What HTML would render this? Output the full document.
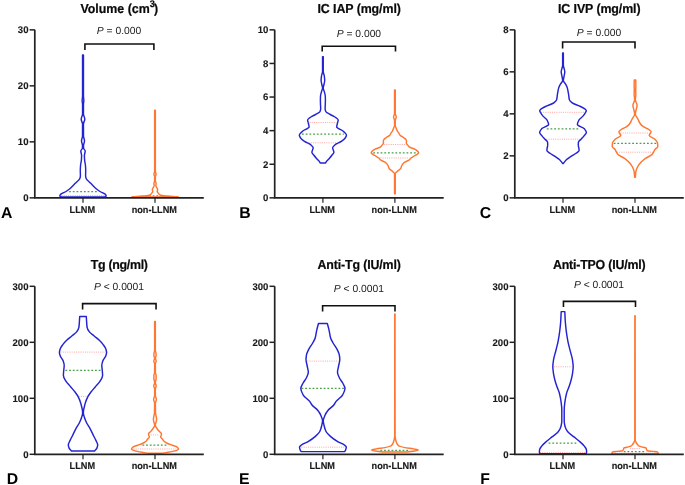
<!DOCTYPE html><html><head><meta charset="utf-8"><style>html,body{margin:0;padding:0;background:#fff;}svg{display:block;will-change:transform;}</style></head><body>
<svg width="685" height="485" viewBox="0 0 685 485" font-family="Liberation Sans, sans-serif" text-rendering="geometricPrecision">
<rect width="685" height="485" fill="#fff"/>
<g><text transform="translate(119.3,12.60) scale(1,1.05)" font-size="12.4" font-weight="bold" fill="#0a0a0a" stroke="#0a0a0a" stroke-width="0.2" text-anchor="middle">Volume (cm<tspan dy="-5.6" font-size="9.2">3</tspan><tspan dy="5.6" dx="-0.8">)</tspan></text><line x1="29.60" y1="197.85" x2="34.80" y2="197.85" stroke="#222222" stroke-width="1.5"/><text transform="translate(28.50,201.15)" font-size="9.6" font-weight="bold" fill="#1a1a1a" stroke="#1a1a1a" stroke-width="0.12" text-anchor="end">0</text><line x1="29.60" y1="141.85" x2="34.80" y2="141.85" stroke="#222222" stroke-width="1.5"/><text transform="translate(28.50,145.15)" font-size="9.6" font-weight="bold" fill="#1a1a1a" stroke="#1a1a1a" stroke-width="0.12" text-anchor="end">10</text><line x1="29.60" y1="85.85" x2="34.80" y2="85.85" stroke="#222222" stroke-width="1.5"/><text transform="translate(28.50,89.15)" font-size="9.6" font-weight="bold" fill="#1a1a1a" stroke="#1a1a1a" stroke-width="0.12" text-anchor="end">20</text><line x1="29.60" y1="29.85" x2="34.80" y2="29.85" stroke="#222222" stroke-width="1.5"/><text transform="translate(28.50,33.15)" font-size="9.6" font-weight="bold" fill="#1a1a1a" stroke="#1a1a1a" stroke-width="0.12" text-anchor="end">30</text><line x1="83.00" y1="197.85" x2="83.00" y2="202.85" stroke="#222222" stroke-width="1.2"/><text transform="translate(82.30,212.60) scale(0.975,1.03)" font-size="9.4" font-weight="bold" fill="#1a1a1a" stroke="#1a1a1a" stroke-width="0.15" text-anchor="middle">LLNM</text><line x1="155.00" y1="197.85" x2="155.00" y2="202.85" stroke="#222222" stroke-width="1.2"/><text transform="translate(154.30,212.60) scale(0.975,1.03)" font-size="9.4" font-weight="bold" fill="#1a1a1a" stroke="#1a1a1a" stroke-width="0.15" text-anchor="middle">non-LLNM</text><path d="M84.90,50.00 V44.00 H153.90 V50.00" fill="none" stroke="#111" stroke-width="1.6"/><text x="119.00" y="34.10" font-size="10.3" fill="#1a1a1a" text-anchor="middle"><tspan font-style="italic">P</tspan> = 0.000</text><text x="0.90" y="217.80" font-size="15.8" font-weight="bold" fill="#000">A</text><line x1="69.10" y1="191.60" x2="96.90" y2="191.60" stroke="#45a045" stroke-width="1.3" stroke-dasharray="1.8 1.9"/><line x1="61.50" y1="195.60" x2="104.50" y2="195.60" stroke="#ff9a9a" stroke-width="0.9" stroke-dasharray="1 1.2"/><path d="M83.45,55.00 C83.45,57.33 83.45,59.67 83.45,62.00 C83.45,73.33 83.45,84.67 83.45,96.00 C83.45,97.53 83.85,99.07 83.85,100.60 C83.85,101.90 83.45,103.20 83.45,104.50 C83.45,107.67 83.45,110.83 83.45,114.00 C83.45,115.73 84.80,117.47 84.80,119.20 C84.80,120.80 83.45,122.40 83.45,124.00 C83.45,128.00 83.46,132.00 83.50,136.00 C83.52,137.63 84.50,139.27 84.50,140.90 C84.50,142.43 83.50,143.97 83.50,145.50 C83.50,146.43 83.54,147.37 83.60,148.30 C83.66,149.20 85.20,150.10 85.20,151.00 C85.20,152.50 84.40,154.00 84.40,155.50 C84.40,157.00 84.50,158.50 84.60,160.00 C84.71,161.67 85.25,163.33 85.40,165.00 C85.55,166.67 85.70,168.33 85.70,170.00 C85.70,172.00 85.60,174.00 85.60,176.00 C85.60,177.00 85.98,178.00 86.40,179.00 C86.87,180.13 88.67,181.27 89.80,182.40 C90.73,183.33 91.68,184.27 92.60,185.20 C93.52,186.13 94.26,187.07 95.30,188.00 C96.60,189.17 98.16,190.33 100.00,191.50 C101.48,192.43 104.59,193.37 105.30,194.30 C105.76,194.90 106.20,195.50 106.20,196.10 C106.20,196.37 105.07,196.63 104.50,196.90 L61.50,196.90 C60.93,196.63 59.80,196.37 59.80,196.10 C59.80,195.50 60.24,194.90 60.70,194.30 C61.41,193.37 64.52,192.43 66.00,191.50 C67.84,190.33 69.40,189.17 70.70,188.00 C71.74,187.07 72.48,186.13 73.40,185.20 C74.32,184.27 75.27,183.33 76.20,182.40 C77.33,181.27 79.13,180.13 79.60,179.00 C80.02,178.00 80.40,177.00 80.40,176.00 C80.40,174.00 80.30,172.00 80.30,170.00 C80.30,168.33 80.45,166.67 80.60,165.00 C80.75,163.33 81.29,161.67 81.40,160.00 C81.50,158.50 81.60,157.00 81.60,155.50 C81.60,154.00 80.80,152.50 80.80,151.00 C80.80,150.10 82.34,149.20 82.40,148.30 C82.46,147.37 82.50,146.43 82.50,145.50 C82.50,143.97 81.50,142.43 81.50,140.90 C81.50,139.27 82.48,137.63 82.50,136.00 C82.54,132.00 82.55,128.00 82.55,124.00 C82.55,122.40 81.20,120.80 81.20,119.20 C81.20,117.47 82.55,115.73 82.55,114.00 C82.55,110.83 82.55,107.67 82.55,104.50 C82.55,103.20 82.15,101.90 82.15,100.60 C82.15,99.07 82.55,97.53 82.55,96.00 C82.55,84.67 82.55,73.33 82.55,62.00 C82.55,59.67 82.55,57.33 82.55,55.00 Z" fill="none" stroke="#2323d2" stroke-width="1.45" stroke-linejoin="round"/><line x1="145.27" y1="195.80" x2="164.73" y2="195.80" stroke="#45a045" stroke-width="1.3" stroke-dasharray="1.8 1.9"/><line x1="135.00" y1="196.60" x2="175.00" y2="196.60" stroke="#ff9a9a" stroke-width="0.9" stroke-dasharray="1 1.2"/><path d="M155.35,110.30 C155.35,113.53 155.35,116.77 155.35,120.00 C155.35,137.17 155.35,154.33 155.35,171.50 C155.35,172.40 156.10,173.30 156.10,174.20 C156.10,174.97 155.35,175.73 155.35,176.50 C155.35,178.00 155.36,179.50 155.40,181.00 C155.42,181.83 156.10,182.67 156.10,183.50 C156.10,184.20 155.80,184.90 155.80,185.60 C155.80,186.40 156.64,187.20 157.00,188.00 C157.25,188.57 157.70,189.13 157.70,189.70 C157.70,190.20 157.20,190.70 157.20,191.20 C157.20,191.90 157.90,192.60 158.40,193.30 C158.76,193.80 158.99,194.30 159.80,194.80 C160.23,195.07 161.37,195.33 163.00,195.60 C164.22,195.80 167.45,196.00 170.00,196.20 C172.13,196.37 175.88,196.53 177.00,196.70 C177.67,196.80 177.93,196.90 178.40,197.00 L131.60,197.00 C132.07,196.90 132.33,196.80 133.00,196.70 C134.12,196.53 137.87,196.37 140.00,196.20 C142.55,196.00 145.78,195.80 147.00,195.60 C148.63,195.33 149.77,195.07 150.20,194.80 C151.01,194.30 151.24,193.80 151.60,193.30 C152.10,192.60 152.80,191.90 152.80,191.20 C152.80,190.70 152.30,190.20 152.30,189.70 C152.30,189.13 152.75,188.57 153.00,188.00 C153.36,187.20 154.20,186.40 154.20,185.60 C154.20,184.90 153.90,184.20 153.90,183.50 C153.90,182.67 154.58,181.83 154.60,181.00 C154.64,179.50 154.65,178.00 154.65,176.50 C154.65,175.73 153.90,174.97 153.90,174.20 C153.90,173.30 154.65,172.40 154.65,171.50 C154.65,154.33 154.65,137.17 154.65,120.00 C154.65,116.77 154.65,113.53 154.65,110.30 Z" fill="none" stroke="#ff7630" stroke-width="1.45" stroke-linejoin="round"/><path d="M34.80,29.85 V197.85 H203.80" fill="none" stroke="#222222" stroke-width="1.7"/></g>
<g><text transform="translate(359.2,12.60) scale(1,1.05)" font-size="12.4" font-weight="bold" fill="#0a0a0a" stroke="#0a0a0a" stroke-width="0.2" text-anchor="middle" textLength="83.4">IC IAP (mg/ml)</text><line x1="269.50" y1="197.85" x2="274.70" y2="197.85" stroke="#222222" stroke-width="1.5"/><text transform="translate(268.40,201.15)" font-size="9.6" font-weight="bold" fill="#1a1a1a" stroke="#1a1a1a" stroke-width="0.12" text-anchor="end">0</text><line x1="269.50" y1="164.25" x2="274.70" y2="164.25" stroke="#222222" stroke-width="1.5"/><text transform="translate(268.40,167.55)" font-size="9.6" font-weight="bold" fill="#1a1a1a" stroke="#1a1a1a" stroke-width="0.12" text-anchor="end">2</text><line x1="269.50" y1="130.65" x2="274.70" y2="130.65" stroke="#222222" stroke-width="1.5"/><text transform="translate(268.40,133.95)" font-size="9.6" font-weight="bold" fill="#1a1a1a" stroke="#1a1a1a" stroke-width="0.12" text-anchor="end">4</text><line x1="269.50" y1="97.05" x2="274.70" y2="97.05" stroke="#222222" stroke-width="1.5"/><text transform="translate(268.40,100.35)" font-size="9.6" font-weight="bold" fill="#1a1a1a" stroke="#1a1a1a" stroke-width="0.12" text-anchor="end">6</text><line x1="269.50" y1="63.45" x2="274.70" y2="63.45" stroke="#222222" stroke-width="1.5"/><text transform="translate(268.40,66.75)" font-size="9.6" font-weight="bold" fill="#1a1a1a" stroke="#1a1a1a" stroke-width="0.12" text-anchor="end">8</text><line x1="269.50" y1="29.85" x2="274.70" y2="29.85" stroke="#222222" stroke-width="1.5"/><text transform="translate(268.40,33.15)" font-size="9.6" font-weight="bold" fill="#1a1a1a" stroke="#1a1a1a" stroke-width="0.12" text-anchor="end">10</text><line x1="322.90" y1="197.85" x2="322.90" y2="202.85" stroke="#222222" stroke-width="1.2"/><text transform="translate(322.20,212.60) scale(0.975,1.03)" font-size="9.4" font-weight="bold" fill="#1a1a1a" stroke="#1a1a1a" stroke-width="0.15" text-anchor="middle">LLNM</text><line x1="394.90" y1="197.85" x2="394.90" y2="202.85" stroke="#222222" stroke-width="1.2"/><text transform="translate(394.20,212.60) scale(0.975,1.03)" font-size="9.4" font-weight="bold" fill="#1a1a1a" stroke="#1a1a1a" stroke-width="0.15" text-anchor="middle">non-LLNM</text><path d="M322.20,51.60 V46.20 H395.50 V51.60" fill="none" stroke="#111" stroke-width="1.6"/><text x="358.90" y="36.70" font-size="10.3" fill="#1a1a1a" text-anchor="middle"><tspan font-style="italic">P</tspan> = 0.000</text><text x="239.30" y="217.80" font-size="15.8" font-weight="bold" fill="#000">B</text><line x1="309.60" y1="122.50" x2="336.20" y2="122.50" stroke="#ff9a9a" stroke-width="0.9" stroke-dasharray="1 1.2"/><line x1="302.00" y1="134.20" x2="343.80" y2="134.20" stroke="#45a045" stroke-width="1.3" stroke-dasharray="1.8 1.9"/><line x1="308.70" y1="142.80" x2="337.10" y2="142.80" stroke="#ff9a9a" stroke-width="0.9" stroke-dasharray="1 1.2"/><path d="M323.25,56.60 C323.25,59.40 323.25,62.20 323.25,65.00 C323.25,67.13 323.25,69.27 323.25,71.40 C323.25,72.93 324.10,74.47 324.30,76.00 C324.49,77.50 324.70,79.00 324.70,80.50 C324.70,81.67 324.32,82.83 324.10,84.00 C323.85,85.30 323.25,86.60 323.25,87.90 C323.25,89.27 324.07,90.63 324.40,92.00 C324.74,93.40 325.24,94.80 325.30,96.20 C325.36,97.47 325.40,98.73 325.40,100.00 C325.40,101.47 325.35,102.93 325.30,104.40 C325.26,105.77 325.10,107.13 325.10,108.50 C325.10,109.60 325.42,110.70 325.90,111.80 C326.29,112.70 328.74,113.60 330.30,114.50 C331.74,115.33 333.74,116.17 334.90,117.00 C336.29,118.00 338.20,119.00 338.20,120.00 C338.20,121.00 337.71,122.00 337.50,123.00 C337.21,124.37 336.70,125.73 336.70,127.10 C336.70,128.40 341.40,129.70 342.90,131.00 C344.43,132.33 346.50,133.67 346.50,135.00 C346.50,136.07 345.78,137.13 345.10,138.20 C344.42,139.27 342.86,140.33 341.30,141.40 C339.74,142.47 336.42,143.53 335.20,144.60 C333.98,145.67 332.60,146.73 332.60,147.80 C332.60,149.30 333.90,150.80 333.90,152.30 C333.90,153.37 332.51,154.43 331.70,155.50 C330.74,156.77 329.58,158.03 328.50,159.30 C327.65,160.30 326.44,161.30 325.90,162.30 C325.77,162.53 325.70,162.77 325.60,163.00 L320.20,163.00 C320.10,162.77 320.03,162.53 319.90,162.30 C319.36,161.30 318.15,160.30 317.30,159.30 C316.22,158.03 315.06,156.77 314.10,155.50 C313.29,154.43 311.90,153.37 311.90,152.30 C311.90,150.80 313.20,149.30 313.20,147.80 C313.20,146.73 311.82,145.67 310.60,144.60 C309.38,143.53 306.06,142.47 304.50,141.40 C302.94,140.33 301.38,139.27 300.70,138.20 C300.02,137.13 299.30,136.07 299.30,135.00 C299.30,133.67 301.37,132.33 302.90,131.00 C304.40,129.70 309.10,128.40 309.10,127.10 C309.10,125.73 308.59,124.37 308.30,123.00 C308.09,122.00 307.60,121.00 307.60,120.00 C307.60,119.00 309.51,118.00 310.90,117.00 C312.06,116.17 314.06,115.33 315.50,114.50 C317.06,113.60 319.51,112.70 319.90,111.80 C320.38,110.70 320.70,109.60 320.70,108.50 C320.70,107.13 320.54,105.77 320.50,104.40 C320.45,102.93 320.40,101.47 320.40,100.00 C320.40,98.73 320.44,97.47 320.50,96.20 C320.56,94.80 321.06,93.40 321.40,92.00 C321.73,90.63 322.55,89.27 322.55,87.90 C322.55,86.60 321.95,85.30 321.70,84.00 C321.48,82.83 321.10,81.67 321.10,80.50 C321.10,79.00 321.31,77.50 321.50,76.00 C321.70,74.47 322.55,72.93 322.55,71.40 C322.55,69.27 322.55,67.13 322.55,65.00 C322.55,62.20 322.55,59.40 322.55,56.60 Z" fill="none" stroke="#2323d2" stroke-width="1.45" stroke-linejoin="round"/><line x1="384.10" y1="144.50" x2="405.70" y2="144.50" stroke="#ff9a9a" stroke-width="0.9" stroke-dasharray="1 1.2"/><line x1="373.20" y1="152.90" x2="416.60" y2="152.90" stroke="#45a045" stroke-width="1.3" stroke-dasharray="1.8 1.9"/><line x1="380.40" y1="158.00" x2="409.40" y2="158.00" stroke="#ff9a9a" stroke-width="0.9" stroke-dasharray="1 1.2"/><path d="M395.25,89.90 C395.25,96.60 395.25,103.30 395.25,110.00 C395.25,111.17 395.25,112.33 395.25,113.50 C395.25,114.67 396.25,115.83 396.25,117.00 C396.25,118.17 395.25,119.33 395.25,120.50 C395.25,122.17 395.25,123.83 395.25,125.50 C395.25,126.50 395.93,127.50 396.30,128.50 C396.58,129.27 396.82,130.03 397.20,130.80 C397.58,131.57 398.31,132.33 398.80,133.10 C399.27,133.83 399.48,134.57 400.10,135.30 C400.75,136.07 402.45,136.83 403.50,137.60 C404.32,138.20 405.44,138.80 405.80,139.40 C406.16,140.00 406.50,140.60 406.50,141.20 C406.50,141.83 406.30,142.47 406.30,143.10 C406.30,143.60 406.93,144.10 407.30,144.60 C407.94,145.47 408.35,146.33 409.50,147.20 C410.34,147.83 413.52,148.47 414.70,149.10 C415.88,149.73 416.83,150.37 417.40,151.00 C417.94,151.60 418.60,152.20 418.60,152.80 C418.60,153.37 417.63,153.93 416.90,154.50 C416.21,155.03 414.90,155.57 414.00,156.10 C412.93,156.73 411.69,157.37 411.00,158.00 C410.35,158.60 410.17,159.20 409.50,159.80 C408.38,160.80 404.95,161.80 403.90,162.80 C402.85,163.80 402.20,164.80 401.70,165.80 C401.22,166.77 401.16,167.73 400.60,168.70 C400.02,169.70 397.91,170.70 396.90,171.70 C396.26,172.33 395.25,172.97 395.25,173.60 C395.25,174.40 395.25,175.20 395.25,176.00 C395.25,181.90 395.25,187.80 395.25,193.70 L394.55,193.70 C394.55,187.80 394.55,181.90 394.55,176.00 C394.55,175.20 394.55,174.40 394.55,173.60 C394.55,172.97 393.54,172.33 392.90,171.70 C391.89,170.70 389.78,169.70 389.20,168.70 C388.64,167.73 388.58,166.77 388.10,165.80 C387.60,164.80 386.95,163.80 385.90,162.80 C384.85,161.80 381.42,160.80 380.30,159.80 C379.63,159.20 379.45,158.60 378.80,158.00 C378.11,157.37 376.87,156.73 375.80,156.10 C374.90,155.57 373.59,155.03 372.90,154.50 C372.17,153.93 371.20,153.37 371.20,152.80 C371.20,152.20 371.86,151.60 372.40,151.00 C372.97,150.37 373.92,149.73 375.10,149.10 C376.28,148.47 379.46,147.83 380.30,147.20 C381.45,146.33 381.86,145.47 382.50,144.60 C382.87,144.10 383.50,143.60 383.50,143.10 C383.50,142.47 383.30,141.83 383.30,141.20 C383.30,140.60 383.64,140.00 384.00,139.40 C384.36,138.80 385.48,138.20 386.30,137.60 C387.35,136.83 389.05,136.07 389.70,135.30 C390.32,134.57 390.53,133.83 391.00,133.10 C391.49,132.33 392.22,131.57 392.60,130.80 C392.98,130.03 393.22,129.27 393.50,128.50 C393.87,127.50 394.55,126.50 394.55,125.50 C394.55,123.83 394.55,122.17 394.55,120.50 C394.55,119.33 393.55,118.17 393.55,117.00 C393.55,115.83 394.55,114.67 394.55,113.50 C394.55,112.33 394.55,111.17 394.55,110.00 C394.55,103.30 394.55,96.60 394.55,89.90 Z" fill="none" stroke="#ff7630" stroke-width="1.45" stroke-linejoin="round"/><path d="M274.70,29.85 V197.85 H443.70" fill="none" stroke="#222222" stroke-width="1.7"/></g>
<g><text transform="translate(599.3,12.60) scale(1,1.05)" font-size="12.4" font-weight="bold" fill="#0a0a0a" stroke="#0a0a0a" stroke-width="0.2" text-anchor="middle" textLength="82.6">IC IVP (mg/ml)</text><line x1="509.60" y1="197.85" x2="514.80" y2="197.85" stroke="#222222" stroke-width="1.5"/><text transform="translate(508.50,201.15)" font-size="9.6" font-weight="bold" fill="#1a1a1a" stroke="#1a1a1a" stroke-width="0.12" text-anchor="end">0</text><line x1="509.60" y1="155.85" x2="514.80" y2="155.85" stroke="#222222" stroke-width="1.5"/><text transform="translate(508.50,159.15)" font-size="9.6" font-weight="bold" fill="#1a1a1a" stroke="#1a1a1a" stroke-width="0.12" text-anchor="end">2</text><line x1="509.60" y1="113.85" x2="514.80" y2="113.85" stroke="#222222" stroke-width="1.5"/><text transform="translate(508.50,117.15)" font-size="9.6" font-weight="bold" fill="#1a1a1a" stroke="#1a1a1a" stroke-width="0.12" text-anchor="end">4</text><line x1="509.60" y1="71.85" x2="514.80" y2="71.85" stroke="#222222" stroke-width="1.5"/><text transform="translate(508.50,75.15)" font-size="9.6" font-weight="bold" fill="#1a1a1a" stroke="#1a1a1a" stroke-width="0.12" text-anchor="end">6</text><line x1="509.60" y1="29.85" x2="514.80" y2="29.85" stroke="#222222" stroke-width="1.5"/><text transform="translate(508.50,33.15)" font-size="9.6" font-weight="bold" fill="#1a1a1a" stroke="#1a1a1a" stroke-width="0.12" text-anchor="end">8</text><line x1="563.00" y1="197.85" x2="563.00" y2="202.85" stroke="#222222" stroke-width="1.2"/><text transform="translate(562.30,212.60) scale(0.975,1.03)" font-size="9.4" font-weight="bold" fill="#1a1a1a" stroke="#1a1a1a" stroke-width="0.15" text-anchor="middle">LLNM</text><line x1="635.00" y1="197.85" x2="635.00" y2="202.85" stroke="#222222" stroke-width="1.2"/><text transform="translate(634.30,212.60) scale(0.975,1.03)" font-size="9.4" font-weight="bold" fill="#1a1a1a" stroke="#1a1a1a" stroke-width="0.15" text-anchor="middle">non-LLNM</text><path d="M562.60,48.40 V42.00 H635.00 V48.40" fill="none" stroke="#111" stroke-width="1.6"/><text x="599.00" y="36.10" font-size="10.3" fill="#1a1a1a" text-anchor="middle"><tspan font-style="italic">P</tspan> = 0.000</text><text x="479.80" y="218.00" font-size="15.8" font-weight="bold" fill="#000">C</text><line x1="541.00" y1="112.30" x2="585.00" y2="112.30" stroke="#ff9a9a" stroke-width="0.9" stroke-dasharray="1 1.2"/><line x1="546.80" y1="128.80" x2="579.20" y2="128.80" stroke="#45a045" stroke-width="1.3" stroke-dasharray="1.8 1.9"/><line x1="546.40" y1="139.20" x2="579.60" y2="139.20" stroke="#ff9a9a" stroke-width="0.9" stroke-dasharray="1 1.2"/><path d="M563.35,53.00 C563.35,55.33 563.35,57.67 563.35,60.00 C563.35,61.70 563.35,63.40 563.35,65.10 C563.35,67.33 564.80,69.57 564.80,71.80 C564.80,73.20 564.33,74.60 564.10,76.00 C563.85,77.50 563.35,79.00 563.35,80.50 C563.35,81.67 564.88,82.83 565.50,84.00 C566.19,85.30 566.93,86.60 567.30,87.90 C567.93,90.13 568.22,92.37 568.60,94.60 C568.90,96.37 568.91,98.13 569.40,99.90 C569.68,100.90 570.89,101.90 572.20,102.90 C573.77,104.10 578.15,105.30 580.50,106.50 C582.32,107.43 584.44,108.37 585.30,109.30 C585.76,109.80 586.30,110.30 586.30,110.80 C586.30,111.30 585.87,111.80 585.60,112.30 C584.96,113.50 584.15,114.70 583.20,115.90 C582.06,117.33 579.64,118.77 578.90,120.20 C578.16,121.63 577.40,123.07 577.40,124.50 C577.40,125.93 583.25,127.37 584.40,128.80 C585.39,130.03 586.40,131.27 586.40,132.50 C586.40,133.70 584.86,134.90 583.90,136.10 C583.07,137.13 581.93,138.17 581.00,139.20 C580.10,140.20 578.46,141.20 578.40,142.20 C578.34,143.23 578.30,144.27 578.30,145.30 C578.30,146.30 578.77,147.30 578.90,148.30 C578.99,149.00 579.10,149.70 579.10,150.40 C579.10,151.37 577.24,152.33 576.00,153.30 C574.67,154.33 572.56,155.37 571.00,156.40 C569.44,157.43 567.68,158.47 566.60,159.50 C565.21,160.83 564.43,162.17 563.35,163.50 L562.65,163.50 C561.57,162.17 560.79,160.83 559.40,159.50 C558.32,158.47 556.56,157.43 555.00,156.40 C553.44,155.37 551.33,154.33 550.00,153.30 C548.76,152.33 546.90,151.37 546.90,150.40 C546.90,149.70 547.01,149.00 547.10,148.30 C547.23,147.30 547.70,146.30 547.70,145.30 C547.70,144.27 547.66,143.23 547.60,142.20 C547.54,141.20 545.90,140.20 545.00,139.20 C544.07,138.17 542.93,137.13 542.10,136.10 C541.14,134.90 539.60,133.70 539.60,132.50 C539.60,131.27 540.61,130.03 541.60,128.80 C542.75,127.37 548.60,125.93 548.60,124.50 C548.60,123.07 547.84,121.63 547.10,120.20 C546.36,118.77 543.94,117.33 542.80,115.90 C541.85,114.70 541.04,113.50 540.40,112.30 C540.13,111.80 539.70,111.30 539.70,110.80 C539.70,110.30 540.24,109.80 540.70,109.30 C541.56,108.37 543.68,107.43 545.50,106.50 C547.85,105.30 552.23,104.10 553.80,102.90 C555.11,101.90 556.32,100.90 556.60,99.90 C557.09,98.13 557.10,96.37 557.40,94.60 C557.78,92.37 558.07,90.13 558.70,87.90 C559.07,86.60 559.81,85.30 560.50,84.00 C561.12,82.83 562.65,81.67 562.65,80.50 C562.65,79.00 562.15,77.50 561.90,76.00 C561.67,74.60 561.20,73.20 561.20,71.80 C561.20,69.57 562.65,67.33 562.65,65.10 C562.65,63.40 562.65,61.70 562.65,60.00 C562.65,57.67 562.65,55.33 562.65,53.00 Z" fill="none" stroke="#2323d2" stroke-width="1.45" stroke-linejoin="round"/><line x1="620.50" y1="133.00" x2="649.50" y2="133.00" stroke="#ff9a9a" stroke-width="0.9" stroke-dasharray="1 1.2"/><line x1="613.70" y1="143.30" x2="656.30" y2="143.30" stroke="#45a045" stroke-width="1.3" stroke-dasharray="1.8 1.9"/><line x1="617.00" y1="152.20" x2="653.00" y2="152.20" stroke="#ff9a9a" stroke-width="0.9" stroke-dasharray="1 1.2"/><path d="M635.75,79.90 C635.78,81.97 635.85,84.03 635.85,86.10 C635.85,87.57 635.70,89.03 635.70,90.50 C635.70,91.90 635.85,93.30 635.85,94.70 C635.85,96.37 635.35,98.03 635.35,99.70 C635.35,101.57 637.10,103.43 637.10,105.30 C637.10,106.87 636.42,108.43 636.10,110.00 C635.84,111.30 635.35,112.60 635.35,113.90 C635.35,115.77 637.14,117.63 638.10,119.50 C638.87,121.00 639.38,122.50 640.50,124.00 C641.20,124.93 642.37,125.87 643.70,126.80 C644.98,127.70 647.63,128.60 648.80,129.50 C649.79,130.27 651.10,131.03 651.10,131.80 C651.10,132.20 650.79,132.60 650.60,133.00 C650.21,133.83 649.20,134.67 649.20,135.50 C649.20,136.73 653.59,137.97 654.80,139.20 C656.01,140.43 657.32,141.67 657.50,142.90 C657.68,144.13 657.80,145.37 657.80,146.60 C657.80,147.63 655.46,148.67 654.80,149.70 C654.27,150.53 654.07,151.37 653.60,152.20 C653.15,153.00 652.74,153.80 652.00,154.60 C650.82,155.87 647.25,157.13 645.50,158.40 C643.79,159.63 642.34,160.87 641.20,162.10 C639.69,163.73 638.27,165.37 637.50,167.00 C636.72,168.67 636.03,170.33 635.80,172.00 C635.56,173.73 635.50,175.47 635.35,177.20 L634.65,177.20 C634.50,175.47 634.44,173.73 634.20,172.00 C633.97,170.33 633.28,168.67 632.50,167.00 C631.73,165.37 630.31,163.73 628.80,162.10 C627.66,160.87 626.21,159.63 624.50,158.40 C622.75,157.13 619.18,155.87 618.00,154.60 C617.26,153.80 616.85,153.00 616.40,152.20 C615.93,151.37 615.73,150.53 615.20,149.70 C614.54,148.67 612.20,147.63 612.20,146.60 C612.20,145.37 612.32,144.13 612.50,142.90 C612.68,141.67 613.99,140.43 615.20,139.20 C616.41,137.97 620.80,136.73 620.80,135.50 C620.80,134.67 619.79,133.83 619.40,133.00 C619.21,132.60 618.90,132.20 618.90,131.80 C618.90,131.03 620.21,130.27 621.20,129.50 C622.37,128.60 625.02,127.70 626.30,126.80 C627.63,125.87 628.80,124.93 629.50,124.00 C630.62,122.50 631.13,121.00 631.90,119.50 C632.86,117.63 634.65,115.77 634.65,113.90 C634.65,112.60 634.16,111.30 633.90,110.00 C633.58,108.43 632.90,106.87 632.90,105.30 C632.90,103.43 634.65,101.57 634.65,99.70 C634.65,98.03 634.15,96.37 634.15,94.70 C634.15,93.30 634.30,91.90 634.30,90.50 C634.30,89.03 634.15,87.57 634.15,86.10 C634.15,84.03 634.22,81.97 634.25,79.90 Z" fill="none" stroke="#ff7630" stroke-width="1.45" stroke-linejoin="round"/><path d="M514.80,29.85 V197.85 H683.80" fill="none" stroke="#222222" stroke-width="1.7"/></g>
<g><text transform="translate(119.3,269.30) scale(1,1.05)" font-size="12.4" font-weight="bold" fill="#0a0a0a" stroke="#0a0a0a" stroke-width="0.2" text-anchor="middle" textLength="57.3">Tg (ng/ml)</text><line x1="29.60" y1="454.30" x2="34.80" y2="454.30" stroke="#222222" stroke-width="1.5"/><text transform="translate(28.50,457.60)" font-size="9.6" font-weight="bold" fill="#1a1a1a" stroke="#1a1a1a" stroke-width="0.12" text-anchor="end">0</text><line x1="29.60" y1="398.30" x2="34.80" y2="398.30" stroke="#222222" stroke-width="1.5"/><text transform="translate(28.50,401.60)" font-size="9.6" font-weight="bold" fill="#1a1a1a" stroke="#1a1a1a" stroke-width="0.12" text-anchor="end">100</text><line x1="29.60" y1="342.30" x2="34.80" y2="342.30" stroke="#222222" stroke-width="1.5"/><text transform="translate(28.50,345.60)" font-size="9.6" font-weight="bold" fill="#1a1a1a" stroke="#1a1a1a" stroke-width="0.12" text-anchor="end">200</text><line x1="29.60" y1="286.30" x2="34.80" y2="286.30" stroke="#222222" stroke-width="1.5"/><text transform="translate(28.50,289.60)" font-size="9.6" font-weight="bold" fill="#1a1a1a" stroke="#1a1a1a" stroke-width="0.12" text-anchor="end">300</text><line x1="83.00" y1="454.30" x2="83.00" y2="459.30" stroke="#222222" stroke-width="1.2"/><text transform="translate(82.30,469.05) scale(0.975,1.03)" font-size="9.4" font-weight="bold" fill="#1a1a1a" stroke="#1a1a1a" stroke-width="0.15" text-anchor="middle">LLNM</text><line x1="155.00" y1="454.30" x2="155.00" y2="459.30" stroke="#222222" stroke-width="1.2"/><text transform="translate(154.30,469.05) scale(0.975,1.03)" font-size="9.4" font-weight="bold" fill="#1a1a1a" stroke="#1a1a1a" stroke-width="0.15" text-anchor="middle">non-LLNM</text><path d="M82.60,309.40 V303.60 H156.05 V309.40" fill="none" stroke="#111" stroke-width="1.6"/><text x="119.00" y="290.10" font-size="10.3" fill="#1a1a1a" text-anchor="middle"><tspan font-style="italic">P</tspan> &lt; 0.0001</text><text x="6.80" y="483.70" font-size="15.8" font-weight="bold" fill="#000">D</text><line x1="60.70" y1="352.10" x2="105.30" y2="352.10" stroke="#ff9a9a" stroke-width="0.9" stroke-dasharray="1 1.2"/><line x1="65.40" y1="370.40" x2="100.60" y2="370.40" stroke="#45a045" stroke-width="1.3" stroke-dasharray="1.8 1.9"/><line x1="78.80" y1="396.40" x2="87.20" y2="396.40" stroke="#ff9a9a" stroke-width="0.9" stroke-dasharray="1 1.2"/><path d="M86.30,316.50 C86.40,318.17 86.48,319.83 86.60,321.50 C86.74,323.43 86.81,325.37 87.10,327.30 C87.32,328.73 88.22,330.17 89.20,331.60 C90.20,333.07 92.50,334.53 94.20,336.00 C95.86,337.43 97.83,338.87 99.30,340.30 C100.77,341.73 102.16,343.17 103.20,344.60 C104.24,346.03 105.35,347.47 105.80,348.90 C106.19,350.13 106.60,351.37 106.60,352.60 C106.60,353.80 106.05,355.00 105.60,356.20 C105.06,357.63 103.50,359.07 103.00,360.50 C102.42,362.17 101.80,363.83 101.80,365.50 C101.80,367.17 102.17,368.83 102.30,370.50 C102.42,372.17 102.60,373.83 102.60,375.50 C102.60,377.37 101.19,379.23 100.10,381.10 C99.01,382.97 96.95,384.83 95.40,386.70 C93.85,388.57 92.19,390.43 90.80,392.30 C89.79,393.67 88.71,395.03 88.00,396.40 C86.80,398.73 85.83,401.07 85.20,403.40 C84.36,406.50 83.35,409.60 83.35,412.70 C83.35,414.47 84.06,416.23 84.60,418.00 C85.10,419.67 85.88,421.33 86.70,423.00 C87.65,424.93 89.16,426.87 90.20,428.80 C91.24,430.73 92.05,432.67 93.00,434.60 C93.95,436.53 95.06,438.47 95.90,440.40 C96.57,441.93 97.70,443.47 97.70,445.00 C97.70,446.13 97.27,447.27 96.80,448.40 C96.45,449.23 95.33,450.07 94.60,450.90 L71.40,450.90 C70.67,450.07 69.55,449.23 69.20,448.40 C68.73,447.27 68.30,446.13 68.30,445.00 C68.30,443.47 69.43,441.93 70.10,440.40 C70.94,438.47 72.05,436.53 73.00,434.60 C73.95,432.67 74.76,430.73 75.80,428.80 C76.84,426.87 78.35,424.93 79.30,423.00 C80.12,421.33 80.90,419.67 81.40,418.00 C81.94,416.23 82.65,414.47 82.65,412.70 C82.65,409.60 81.64,406.50 80.80,403.40 C80.17,401.07 79.20,398.73 78.00,396.40 C77.29,395.03 76.21,393.67 75.20,392.30 C73.81,390.43 72.15,388.57 70.60,386.70 C69.05,384.83 66.99,382.97 65.90,381.10 C64.81,379.23 63.40,377.37 63.40,375.50 C63.40,373.83 63.58,372.17 63.70,370.50 C63.83,368.83 64.20,367.17 64.20,365.50 C64.20,363.83 63.58,362.17 63.00,360.50 C62.50,359.07 60.94,357.63 60.40,356.20 C59.95,355.00 59.40,353.80 59.40,352.60 C59.40,351.37 59.81,350.13 60.20,348.90 C60.65,347.47 61.76,346.03 62.80,344.60 C63.84,343.17 65.23,341.73 66.70,340.30 C68.17,338.87 70.14,337.43 71.80,336.00 C73.50,334.53 75.80,333.07 76.80,331.60 C77.78,330.17 78.68,328.73 78.90,327.30 C79.19,325.37 79.26,323.43 79.40,321.50 C79.52,319.83 79.60,318.17 79.70,316.50 Z" fill="none" stroke="#2323d2" stroke-width="1.45" stroke-linejoin="round"/><line x1="150.70" y1="434.90" x2="159.30" y2="434.90" stroke="#ff9a9a" stroke-width="0.9" stroke-dasharray="1 1.2"/><line x1="142.40" y1="445.20" x2="167.60" y2="445.20" stroke="#45a045" stroke-width="1.3" stroke-dasharray="1.8 1.9"/><line x1="133.50" y1="449.00" x2="176.50" y2="449.00" stroke="#ff9a9a" stroke-width="0.9" stroke-dasharray="1 1.2"/><path d="M155.35,321.50 C155.35,331.00 155.35,340.50 155.35,350.00 C155.35,351.17 155.91,352.33 156.00,353.50 C156.05,354.17 156.10,354.83 156.10,355.50 C156.10,356.43 155.40,357.37 155.40,358.30 C155.40,359.23 156.20,360.17 156.20,361.10 C156.20,362.07 155.35,363.03 155.35,364.00 C155.35,367.00 155.36,370.00 155.40,373.00 C155.41,373.67 156.10,374.33 156.10,375.00 C156.10,376.40 156.10,377.80 156.10,379.20 C156.10,379.97 155.40,380.73 155.40,381.50 C155.40,382.00 155.40,382.50 155.40,383.00 C155.40,383.93 156.20,384.87 156.20,385.80 C156.20,386.87 155.35,387.93 155.35,389.00 C155.35,391.17 155.35,393.33 155.35,395.50 C155.35,396.83 156.40,398.17 156.40,399.50 C156.40,400.67 155.40,401.83 155.40,403.00 C155.40,406.13 155.44,409.27 155.50,412.40 C155.55,414.80 156.60,417.20 156.60,419.60 C156.60,421.50 155.30,423.40 155.30,425.30 C155.30,426.30 156.28,427.30 156.90,428.30 C157.59,429.40 158.44,430.50 159.40,431.60 C159.98,432.27 161.40,432.93 161.40,433.60 C161.40,434.07 161.40,434.53 161.40,435.00 C161.40,435.63 160.60,436.27 160.60,436.90 C160.60,437.60 161.74,438.30 162.30,439.00 C162.97,439.83 163.39,440.67 164.30,441.50 C165.03,442.17 166.22,442.83 167.60,443.50 C168.77,444.07 170.64,444.63 172.20,445.20 C173.67,445.73 175.98,446.27 176.70,446.80 C177.64,447.50 178.50,448.20 178.50,448.90 C178.50,449.57 176.78,450.23 175.00,450.90 C173.49,451.47 169.52,452.03 166.00,452.60 C164.55,452.83 162.67,453.07 161.00,453.30 L149.00,453.30 C147.33,453.07 145.45,452.83 144.00,452.60 C140.48,452.03 136.51,451.47 135.00,450.90 C133.22,450.23 131.50,449.57 131.50,448.90 C131.50,448.20 132.36,447.50 133.30,446.80 C134.02,446.27 136.33,445.73 137.80,445.20 C139.36,444.63 141.23,444.07 142.40,443.50 C143.78,442.83 144.97,442.17 145.70,441.50 C146.61,440.67 147.03,439.83 147.70,439.00 C148.26,438.30 149.40,437.60 149.40,436.90 C149.40,436.27 148.60,435.63 148.60,435.00 C148.60,434.53 148.60,434.07 148.60,433.60 C148.60,432.93 150.02,432.27 150.60,431.60 C151.56,430.50 152.41,429.40 153.10,428.30 C153.72,427.30 154.70,426.30 154.70,425.30 C154.70,423.40 153.40,421.50 153.40,419.60 C153.40,417.20 154.45,414.80 154.50,412.40 C154.56,409.27 154.60,406.13 154.60,403.00 C154.60,401.83 153.60,400.67 153.60,399.50 C153.60,398.17 154.65,396.83 154.65,395.50 C154.65,393.33 154.65,391.17 154.65,389.00 C154.65,387.93 153.80,386.87 153.80,385.80 C153.80,384.87 154.60,383.93 154.60,383.00 C154.60,382.50 154.60,382.00 154.60,381.50 C154.60,380.73 153.90,379.97 153.90,379.20 C153.90,377.80 153.90,376.40 153.90,375.00 C153.90,374.33 154.59,373.67 154.60,373.00 C154.64,370.00 154.65,367.00 154.65,364.00 C154.65,363.03 153.80,362.07 153.80,361.10 C153.80,360.17 154.60,359.23 154.60,358.30 C154.60,357.37 153.90,356.43 153.90,355.50 C153.90,354.83 153.95,354.17 154.00,353.50 C154.09,352.33 154.65,351.17 154.65,350.00 C154.65,340.50 154.65,331.00 154.65,321.50 Z" fill="none" stroke="#ff7630" stroke-width="1.45" stroke-linejoin="round"/><path d="M34.80,286.30 V454.30 H203.80" fill="none" stroke="#222222" stroke-width="1.7"/></g>
<g><text transform="translate(359.2,269.30) scale(1,1.05)" font-size="12.4" font-weight="bold" fill="#0a0a0a" stroke="#0a0a0a" stroke-width="0.2" text-anchor="middle" textLength="83.4">Anti-Tg (IU/ml)</text><line x1="269.50" y1="454.30" x2="274.70" y2="454.30" stroke="#222222" stroke-width="1.5"/><text transform="translate(268.40,457.60)" font-size="9.6" font-weight="bold" fill="#1a1a1a" stroke="#1a1a1a" stroke-width="0.12" text-anchor="end">0</text><line x1="269.50" y1="398.30" x2="274.70" y2="398.30" stroke="#222222" stroke-width="1.5"/><text transform="translate(268.40,401.60)" font-size="9.6" font-weight="bold" fill="#1a1a1a" stroke="#1a1a1a" stroke-width="0.12" text-anchor="end">100</text><line x1="269.50" y1="342.30" x2="274.70" y2="342.30" stroke="#222222" stroke-width="1.5"/><text transform="translate(268.40,345.60)" font-size="9.6" font-weight="bold" fill="#1a1a1a" stroke="#1a1a1a" stroke-width="0.12" text-anchor="end">200</text><line x1="269.50" y1="286.30" x2="274.70" y2="286.30" stroke="#222222" stroke-width="1.5"/><text transform="translate(268.40,289.60)" font-size="9.6" font-weight="bold" fill="#1a1a1a" stroke="#1a1a1a" stroke-width="0.12" text-anchor="end">300</text><line x1="322.90" y1="454.30" x2="322.90" y2="459.30" stroke="#222222" stroke-width="1.2"/><text transform="translate(322.20,469.05) scale(0.975,1.03)" font-size="9.4" font-weight="bold" fill="#1a1a1a" stroke="#1a1a1a" stroke-width="0.15" text-anchor="middle">LLNM</text><line x1="394.90" y1="454.30" x2="394.90" y2="459.30" stroke="#222222" stroke-width="1.2"/><text transform="translate(394.20,469.05) scale(0.975,1.03)" font-size="9.4" font-weight="bold" fill="#1a1a1a" stroke="#1a1a1a" stroke-width="0.15" text-anchor="middle">non-LLNM</text><path d="M322.60,311.40 V305.80 H395.00 V311.40" fill="none" stroke="#111" stroke-width="1.6"/><text x="358.90" y="292.20" font-size="10.3" fill="#1a1a1a" text-anchor="middle"><tspan font-style="italic">P</tspan> &lt; 0.0001</text><text x="239.00" y="483.70" font-size="15.8" font-weight="bold" fill="#000">E</text><line x1="307.30" y1="361.10" x2="338.50" y2="361.10" stroke="#ff9a9a" stroke-width="0.9" stroke-dasharray="1 1.2"/><line x1="301.48" y1="388.30" x2="344.32" y2="388.30" stroke="#45a045" stroke-width="1.3" stroke-dasharray="1.8 1.9"/><line x1="301.40" y1="447.20" x2="344.40" y2="447.20" stroke="#ff9a9a" stroke-width="0.9" stroke-dasharray="1 1.2"/><path d="M327.30,323.50 C327.87,325.60 328.52,327.70 329.00,329.80 C329.62,332.53 329.80,335.27 330.60,338.00 C331.09,339.67 332.18,341.33 333.10,343.00 C334.31,345.20 336.16,347.40 337.20,349.60 C338.10,351.50 339.12,353.40 339.40,355.30 C339.61,356.70 339.80,358.10 339.80,359.50 C339.80,361.67 338.99,363.83 338.60,366.00 C338.23,368.07 337.50,370.13 337.50,372.20 C337.50,373.97 338.45,375.73 339.20,377.50 C339.98,379.33 341.77,381.17 342.70,383.00 C343.63,384.83 345.00,386.67 345.00,388.50 C345.00,390.60 343.82,392.70 342.70,394.80 C341.53,397.00 337.78,399.20 336.10,401.40 C335.18,402.60 334.75,403.80 333.80,405.00 C332.41,406.77 329.48,408.53 328.10,410.30 C326.74,412.03 325.62,413.77 324.90,415.50 C324.17,417.27 323.25,419.03 323.25,420.80 C323.25,422.53 323.80,424.27 324.20,426.00 C324.61,427.77 325.06,429.53 325.90,431.30 C326.74,433.07 328.74,434.83 330.70,436.60 C332.62,438.33 335.20,440.07 338.10,441.80 C339.88,442.87 343.11,443.93 344.40,445.00 C345.25,445.70 346.30,446.40 346.30,447.10 C346.30,448.17 345.93,449.23 345.50,450.30 C345.32,450.73 344.83,451.17 344.50,451.60 L301.30,451.60 C300.97,451.17 300.48,450.73 300.30,450.30 C299.87,449.23 299.50,448.17 299.50,447.10 C299.50,446.40 300.55,445.70 301.40,445.00 C302.69,443.93 305.92,442.87 307.70,441.80 C310.60,440.07 313.18,438.33 315.10,436.60 C317.06,434.83 319.06,433.07 319.90,431.30 C320.74,429.53 321.19,427.77 321.60,426.00 C322.00,424.27 322.55,422.53 322.55,420.80 C322.55,419.03 321.63,417.27 320.90,415.50 C320.18,413.77 319.06,412.03 317.70,410.30 C316.32,408.53 313.39,406.77 312.00,405.00 C311.05,403.80 310.62,402.60 309.70,401.40 C308.02,399.20 304.27,397.00 303.10,394.80 C301.98,392.70 300.80,390.60 300.80,388.50 C300.80,386.67 302.17,384.83 303.10,383.00 C304.03,381.17 305.82,379.33 306.60,377.50 C307.35,375.73 308.30,373.97 308.30,372.20 C308.30,370.13 307.57,368.07 307.20,366.00 C306.81,363.83 306.00,361.67 306.00,359.50 C306.00,358.10 306.19,356.70 306.40,355.30 C306.68,353.40 307.70,351.50 308.60,349.60 C309.64,347.40 311.49,345.20 312.70,343.00 C313.62,341.33 314.71,339.67 315.20,338.00 C316.00,335.27 316.18,332.53 316.80,329.80 C317.28,327.70 317.93,325.60 318.50,323.50 Z" fill="none" stroke="#2323d2" stroke-width="1.45" stroke-linejoin="round"/><line x1="380.40" y1="450.40" x2="409.40" y2="450.40" stroke="#45a045" stroke-width="1.3" stroke-dasharray="1.8 1.9"/><line x1="378.90" y1="451.30" x2="410.90" y2="451.30" stroke="#ff9a9a" stroke-width="0.9" stroke-dasharray="1 1.2"/><path d="M395.05,314.00 C395.05,319.33 395.05,324.67 395.05,330.00 C395.05,365.33 395.05,400.67 395.10,436.00 C395.10,436.67 395.25,437.33 395.35,438.00 C395.49,438.93 395.66,439.87 395.90,440.80 C396.11,441.63 396.40,442.47 396.80,443.30 C397.20,444.13 397.57,444.97 398.60,445.80 C399.34,446.40 402.02,447.00 404.80,447.60 C406.81,448.03 411.31,448.47 413.50,448.90 C415.52,449.30 418.40,449.70 418.40,450.10 C418.40,450.40 416.52,450.70 414.90,451.00 C413.10,451.33 408.90,451.67 405.90,452.00 L383.90,452.00 C380.90,451.67 376.70,451.33 374.90,451.00 C373.28,450.70 371.40,450.40 371.40,450.10 C371.40,449.70 374.28,449.30 376.30,448.90 C378.49,448.47 382.99,448.03 385.00,447.60 C387.78,447.00 390.46,446.40 391.20,445.80 C392.23,444.97 392.60,444.13 393.00,443.30 C393.40,442.47 393.69,441.63 393.90,440.80 C394.14,439.87 394.31,438.93 394.45,438.00 C394.55,437.33 394.70,436.67 394.70,436.00 C394.75,400.67 394.75,365.33 394.75,330.00 C394.75,324.67 394.75,319.33 394.75,314.00 Z" fill="none" stroke="#ff7630" stroke-width="1.45" stroke-linejoin="round"/><path d="M274.70,286.30 V454.30 H443.70" fill="none" stroke="#222222" stroke-width="1.7"/></g>
<g><text transform="translate(599.3,269.30) scale(1,1.05)" font-size="12.4" font-weight="bold" fill="#0a0a0a" stroke="#0a0a0a" stroke-width="0.2" text-anchor="middle" textLength="92.8">Anti-TPO (IU/ml)</text><line x1="509.60" y1="454.30" x2="514.80" y2="454.30" stroke="#222222" stroke-width="1.5"/><text transform="translate(508.50,457.60)" font-size="9.6" font-weight="bold" fill="#1a1a1a" stroke="#1a1a1a" stroke-width="0.12" text-anchor="end">0</text><line x1="509.60" y1="398.30" x2="514.80" y2="398.30" stroke="#222222" stroke-width="1.5"/><text transform="translate(508.50,401.60)" font-size="9.6" font-weight="bold" fill="#1a1a1a" stroke="#1a1a1a" stroke-width="0.12" text-anchor="end">100</text><line x1="509.60" y1="342.30" x2="514.80" y2="342.30" stroke="#222222" stroke-width="1.5"/><text transform="translate(508.50,345.60)" font-size="9.6" font-weight="bold" fill="#1a1a1a" stroke="#1a1a1a" stroke-width="0.12" text-anchor="end">200</text><line x1="509.60" y1="286.30" x2="514.80" y2="286.30" stroke="#222222" stroke-width="1.5"/><text transform="translate(508.50,289.60)" font-size="9.6" font-weight="bold" fill="#1a1a1a" stroke="#1a1a1a" stroke-width="0.12" text-anchor="end">300</text><line x1="563.00" y1="454.30" x2="563.00" y2="459.30" stroke="#222222" stroke-width="1.2"/><text transform="translate(562.30,469.05) scale(0.975,1.03)" font-size="9.4" font-weight="bold" fill="#1a1a1a" stroke="#1a1a1a" stroke-width="0.15" text-anchor="middle">LLNM</text><line x1="635.00" y1="454.30" x2="635.00" y2="459.30" stroke="#222222" stroke-width="1.2"/><text transform="translate(634.30,469.05) scale(0.975,1.03)" font-size="9.4" font-weight="bold" fill="#1a1a1a" stroke="#1a1a1a" stroke-width="0.15" text-anchor="middle">non-LLNM</text><path d="M563.45,307.00 V301.40 H635.50 V307.00" fill="none" stroke="#111" stroke-width="1.6"/><text x="599.00" y="287.50" font-size="10.3" fill="#1a1a1a" text-anchor="middle"><tspan font-style="italic">P</tspan> &lt; 0.0001</text><text x="480.30" y="483.70" font-size="15.8" font-weight="bold" fill="#000">F</text><line x1="554.00" y1="366.80" x2="572.00" y2="366.80" stroke="#ff9a9a" stroke-width="0.9" stroke-dasharray="1 1.2"/><line x1="548.60" y1="443.10" x2="577.40" y2="443.10" stroke="#45a045" stroke-width="1.3" stroke-dasharray="1.8 1.9"/><line x1="540.11" y1="452.50" x2="585.89" y2="452.50" stroke="#ff9a9a" stroke-width="0.9" stroke-dasharray="1 1.2"/><path d="M564.80,311.60 C564.97,314.90 565.08,318.20 565.30,321.50 C565.52,324.80 565.89,328.10 566.30,331.40 C566.71,334.70 567.26,338.00 567.90,341.30 C568.54,344.60 569.48,347.90 570.30,351.20 C570.98,353.93 571.99,356.67 572.40,359.40 C572.77,361.87 573.20,364.33 573.20,366.80 C573.20,369.27 572.76,371.73 572.40,374.20 C572.09,376.30 571.55,378.40 571.00,380.50 C570.47,382.53 569.79,384.57 569.10,386.60 C568.35,388.80 567.17,391.00 566.60,393.20 C565.89,395.93 565.35,398.67 565.00,401.40 C564.64,404.17 564.20,406.93 564.20,409.70 C564.20,413.53 564.20,417.37 564.20,421.20 C564.20,422.63 564.51,424.07 564.80,425.50 C565.02,426.60 565.42,427.70 565.90,428.80 C566.41,429.97 567.21,431.13 568.20,432.30 C569.51,433.83 572.08,435.37 574.00,436.90 C575.92,438.43 578.00,439.97 579.70,441.50 C581.40,443.03 583.16,444.57 584.30,446.10 C585.17,447.27 586.23,448.43 586.40,449.60 C586.51,450.33 586.60,451.07 586.60,451.80 C586.60,452.43 586.40,453.07 586.30,453.70 L539.70,453.70 C539.60,453.07 539.40,452.43 539.40,451.80 C539.40,451.07 539.49,450.33 539.60,449.60 C539.77,448.43 540.83,447.27 541.70,446.10 C542.84,444.57 544.60,443.03 546.30,441.50 C548.00,439.97 550.08,438.43 552.00,436.90 C553.92,435.37 556.49,433.83 557.80,432.30 C558.79,431.13 559.59,429.97 560.10,428.80 C560.58,427.70 560.98,426.60 561.20,425.50 C561.49,424.07 561.80,422.63 561.80,421.20 C561.80,417.37 561.80,413.53 561.80,409.70 C561.80,406.93 561.36,404.17 561.00,401.40 C560.65,398.67 560.11,395.93 559.40,393.20 C558.83,391.00 557.65,388.80 556.90,386.60 C556.21,384.57 555.53,382.53 555.00,380.50 C554.45,378.40 553.91,376.30 553.60,374.20 C553.24,371.73 552.80,369.27 552.80,366.80 C552.80,364.33 553.23,361.87 553.60,359.40 C554.01,356.67 555.02,353.93 555.70,351.20 C556.52,347.90 557.46,344.60 558.10,341.30 C558.74,338.00 559.29,334.70 559.70,331.40 C560.11,328.10 560.48,324.80 560.70,321.50 C560.92,318.20 561.03,314.90 561.20,311.60 Z" fill="none" stroke="#2323d2" stroke-width="1.45" stroke-linejoin="round"/><line x1="630.00" y1="448.60" x2="640.00" y2="448.60" stroke="#ff9a9a" stroke-width="0.9" stroke-dasharray="1 1.2"/><line x1="623.80" y1="451.60" x2="646.20" y2="451.60" stroke="#45a045" stroke-width="1.3" stroke-dasharray="1.8 1.9"/><line x1="612.59" y1="453.20" x2="657.41" y2="453.20" stroke="#ff9a9a" stroke-width="0.9" stroke-dasharray="1 1.2"/><path d="M635.15,315.70 C635.15,320.47 635.15,325.23 635.15,330.00 C635.15,366.50 635.15,403.00 635.20,439.50 C635.20,439.93 635.30,440.37 635.40,440.80 C635.53,441.40 635.88,442.00 636.20,442.60 C636.54,443.23 637.00,443.87 637.50,444.50 C637.95,445.07 638.19,445.63 639.10,446.20 C639.63,446.53 641.63,446.87 643.00,447.20 C643.96,447.43 645.82,447.67 646.00,447.90 C646.41,448.43 646.35,448.97 646.60,449.50 C646.82,449.97 646.84,450.43 647.50,450.90 C647.74,451.07 651.50,451.23 653.00,451.40 C654.79,451.60 657.31,451.80 657.50,452.00 C658.10,452.63 658.03,453.27 658.30,453.90 L611.70,453.90 C611.97,453.27 611.90,452.63 612.50,452.00 C612.69,451.80 615.21,451.60 617.00,451.40 C618.50,451.23 622.26,451.07 622.50,450.90 C623.16,450.43 623.18,449.97 623.40,449.50 C623.65,448.97 623.59,448.43 624.00,447.90 C624.18,447.67 626.04,447.43 627.00,447.20 C628.37,446.87 630.37,446.53 630.90,446.20 C631.81,445.63 632.05,445.07 632.50,444.50 C633.00,443.87 633.46,443.23 633.80,442.60 C634.12,442.00 634.47,441.40 634.60,440.80 C634.70,440.37 634.80,439.93 634.80,439.50 C634.85,403.00 634.85,366.50 634.85,330.00 C634.85,325.23 634.85,320.47 634.85,315.70 Z" fill="none" stroke="#ff7630" stroke-width="1.45" stroke-linejoin="round"/><path d="M514.80,286.30 V454.30 H683.80" fill="none" stroke="#222222" stroke-width="1.7"/></g>
</svg></body></html>
